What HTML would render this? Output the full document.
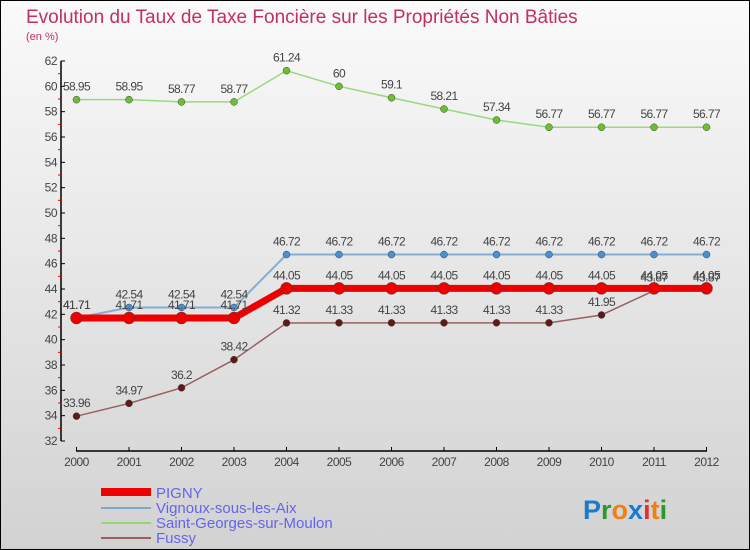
<!DOCTYPE html>
<html><head><meta charset="utf-8"><style>
body{margin:0}
#c{width:748px;height:548px;border:1px solid #000;background:linear-gradient(#fafafa,#d2d2d2);position:relative;font-family:"Liberation Sans",sans-serif;overflow:hidden}
</style></head><body>
<div id="c">
<svg id="s" width="748" height="548" xmlns="http://www.w3.org/2000/svg">
<text x="25" y="22" font-size="19" fill="#c2305c">Evolution du Taux de Taxe Foncière sur les Propriétés Non Bâties</text>
<text x="25" y="39" font-size="11" fill="#c2305c">(en %)</text>
<g id="axes"></g><g id="series"></g>
<g>
<line x1="100" y1="491" x2="150" y2="491" stroke="#e00" stroke-width="8"/>
<text x="155" y="497" font-size="15" fill="#6464f0">PIGNY</text>
<line x1="100" y1="507" x2="150" y2="507" stroke="#7aaad0" stroke-width="2"/>
<text x="155" y="512" font-size="15" fill="#6464f0">Vignoux-sous-les-Aix</text>
<line x1="100" y1="522" x2="150" y2="522" stroke="#90d870" stroke-width="2"/>
<text x="155" y="527" font-size="15" fill="#6464f0">Saint-Georges-sur-Moulon</text>
<line x1="100" y1="537" x2="150" y2="537" stroke="#9a6060" stroke-width="2"/>
<text x="155" y="542" font-size="15" fill="#6464f0">Fussy</text>
</g>
<text x="582" y="518" font-size="27" font-weight="bold"><tspan fill="#1a7ad0">P</tspan><tspan fill="#2a9a30">r</tspan><tspan fill="#f08010">o</tspan><tspan fill="#1a7ad0">x</tspan><tspan fill="#e03030">i</tspan><tspan fill="#f08010">t</tspan><tspan fill="#2a9a30">i</tspan></text>
</svg></div>
<script>
const years=[2000,2001,2002,2003,2004,2005,2006,2007,2008,2009,2010,2011,2012];
const pigny=[41.71,41.71,41.71,41.71,44.05,44.05,44.05,44.05,44.05,44.05,44.05,44.05,44.05];
const vignoux=[41.71,42.54,42.54,42.54,46.72,46.72,46.72,46.72,46.72,46.72,46.72,46.72,46.72];
const saintGeorges=[58.95,58.95,58.77,58.77,61.24,60,59.1,58.21,57.34,56.77,56.77,56.77,56.77];
const fussy=[33.96,34.97,36.2,38.42,41.32,41.33,41.33,41.33,41.33,41.33,41.95,43.87,43.87];
const yTicks=[32,34,36,38,40,42,44,46,48,50,52,54,56,58,60,62];
const NS="http://www.w3.org/2000/svg";
const xs=i=>75.5+i*(705.5-75.5)/12;
const ys=v=>440-(v-32)*(380/30);
function mk(t,a,p){const e=document.createElementNS(NS,t);for(const k in a)e.setAttribute(k,a[k]);p.appendChild(e);return e;}
const ax=document.getElementById('axes');
let e=mk('line',{x1:60,y1:ys(62),x2:60,y2:ys(32),stroke:'#000','stroke-width':1.5},ax);


e=mk('line',{x1:75,y1:450,x2:706,y2:450,stroke:'#000','stroke-width':1.5},ax);


yTicks.forEach(v=>{
 mk('line',{x1:60,y1:ys(v),x2:64,y2:ys(v),stroke:'#000'},ax);
 if(v<62)mk('line',{x1:57,y1:ys(v+1),x2:60,y2:ys(v+1),stroke:'#e00'},ax);
 const t=mk('text',{x:56,y:ys(v)+4,'font-size':12,fill:'#444','text-anchor':'end','letter-spacing':'-0.5'},ax);
 t.textContent=v;
 
 
});
years.forEach((y,i)=>{
 mk('line',{x1:xs(i),y1:446,x2:xs(i),y2:450,stroke:'#000'},ax);
 const t=mk('text',{x:xs(i),y:465,'font-size':12,fill:'#444','text-anchor':'middle','letter-spacing':'-0.5'},ax);
 t.textContent=y;
 
 
});
const sg=document.getElementById('series');
function draw(vals,name,col,w,r,dot,lab){
 const g=mk('g',{},sg);
 
 
 const p=mk('polyline',{points:vals.map((v,i)=>xs(i)+','+ys(v)).join(' '),fill:'none',stroke:col,'stroke-width':w},g);
 
 
 vals.forEach((v,i)=>{
  const c=mk('circle',{cx:xs(i),cy:ys(v),r:r,fill:dot,stroke:'#444','stroke-width':0.5},g);
  
  
  const t=mk('text',{x:xs(i),y:ys(v)-9,'font-size':12,fill:'#444','text-anchor':'middle','letter-spacing':'-0.6'},g);
  t.textContent=String(v).replace(/^(\d+)\.(\d)$/,'$1.$2');
  
  
 });
}
draw(saintGeorges,'saint-georges','#9ad880',1.5,3.5,'#6cc030');
draw(fussy,'fussy','#9a6060',1.5,3.5,'#601818');
draw(vignoux,'vignoux','#80b0d8',2,3.5,'#4a90d0');
draw(pigny,'pigny','#ee0000',7,6,'#ee0000');
</script>
</body></html>
